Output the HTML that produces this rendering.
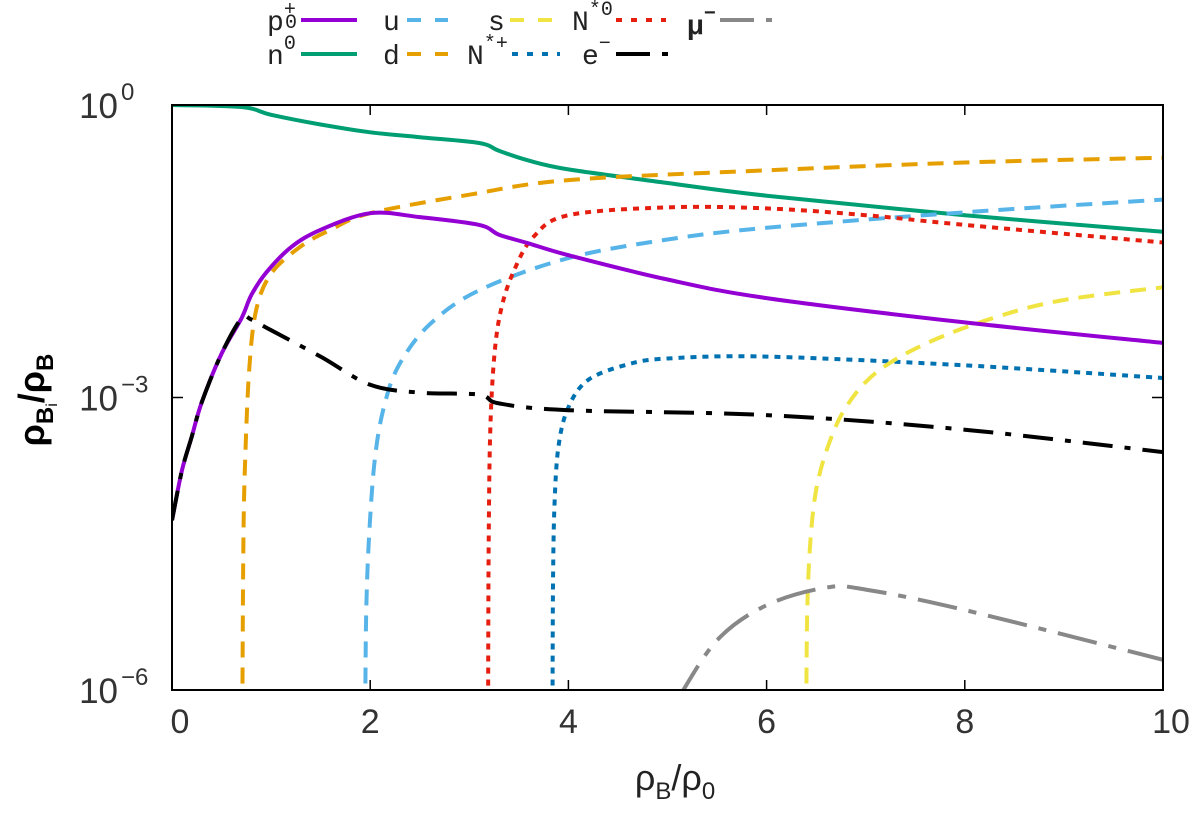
<!DOCTYPE html>
<html><head><meta charset="utf-8"><style>
body{margin:0;background:#fff}
svg text{font-family:"Liberation Sans",sans-serif}
.mono{font-family:"Liberation Mono","DejaVu Sans Mono",monospace}
</style></head><body>
<svg id="c" width="1200" height="821" viewBox="0 0 1200 821">
<defs><clipPath id="clip"><rect x="172" y="105" width="991" height="585"/></clipPath></defs>
<g id="legend"></g>
<g id="series" clip-path="url(#clip)"></g>
<rect x="172" y="105" width="991" height="585" fill="none" stroke="#000" stroke-width="2"/>
<g id="axes"></g>
<text x="675" y="790" font-size="36" text-anchor="middle" fill="#222">ρ<tspan font-size="24" dy="9">B</tspan><tspan dy="-9">/ρ</tspan><tspan font-size="24" dy="9">0</tspan></text>
<text transform="translate(44,400) rotate(-90)" font-size="36" text-anchor="middle" font-weight="bold">ρ<tspan font-size="24" dy="9">B</tspan><tspan font-size="16" font-weight="normal" dy="4">i</tspan><tspan dy="-13">/ρ</tspan><tspan font-size="24" dy="9">B</tspan></text>
</svg>
<script>
const xTicks=[0,2,4,6,8,10];
const yTicks=[0,-3,-6];
const xN0=[0,0.7,1,1.5,2,2.5,3.1,3.3,3.6,4,5,6,8,10];
const yN0=[0,-0.02,-0.1,-0.2,-0.28,-0.33,-0.39,-0.47,-0.57,-0.66,-0.80,-0.93,-1.13,-1.30];
const xP=[0,0.1,0.2,0.3,0.5,0.7,0.8,0.95,1.2,1.5,2,2.5,3.1,3.3,3.6,4,5,6,8,10];
const yP=[-4.26,-3.75,-3.4,-3.05,-2.55,-2.19,-1.95,-1.72,-1.46,-1.28,-1.11,-1.15,-1.23,-1.33,-1.42,-1.54,-1.79,-1.98,-2.23,-2.44];
const xE=[0,0.1,0.2,0.3,0.5,0.7,0.8,1,1.5,2,2.5,3.1,3.3,4,6,8,10];
const yE=[-4.26,-3.75,-3.4,-3.05,-2.55,-2.19,-2.2,-2.31,-2.58,-2.87,-2.95,-2.97,-3.06,-3.13,-3.18,-3.33,-3.56];
const xD=[0.71,0.72,0.74,0.78,0.85,1,1.3,1.6,2,3,4,6,8,10];
const yD=[-6.2,-4.5,-3.6,-2.7,-2.1,-1.73,-1.45,-1.28,-1.11,-0.92,-0.77,-0.67,-0.59,-0.54];
const xU=[1.95,1.96,1.99,2.05,2.15,2.3,2.6,3.1,4,5,6,8,10];
const yU=[-6.2,-5.2,-4.4,-3.6,-3.05,-2.65,-2.25,-1.9,-1.57,-1.38,-1.26,-1.10,-0.97];
const xR=[3.19,3.195,3.21,3.25,3.32,3.45,3.65,4,5,6,7,8,10];
const yR=[-6.2,-4.6,-3.4,-2.6,-2.1,-1.7,-1.35,-1.13,-1.05,-1.06,-1.13,-1.23,-1.41];
const xB=[3.84,3.845,3.86,3.9,4,4.2,4.6,5,6,8,10];
const yB=[-6.2,-4.9,-4.1,-3.5,-3.1,-2.82,-2.66,-2.6,-2.58,-2.67,-2.80];
const xS=[6.4,6.41,6.44,6.5,6.62,6.8,7.1,7.6,8.3,9,10];
const yS=[-6.2,-5.2,-4.5,-3.95,-3.5,-3.1,-2.75,-2.45,-2.18,-2.0,-1.87];
const xM=[5.1,5.5,6,6.6,7,8,10];
const yM=[-6.1,-5.49,-5.13,-4.95,-4.97,-5.18,-5.69];
const X=v=>172+v*99.1, Y=v=>105-v*97.5;
const NS="http://www.w3.org/2000/svg";
function mk(t,a,p){const e=document.createElementNS(NS,t);for(const k in a)e.setAttribute(k,a[k]);p.appendChild(e);return e;}
function smooth(P){let d='M'+P[0][0].toFixed(1)+','+P[0][1].toFixed(1);
 for(let i=0;i<P.length-1;i++){const p0=P[Math.max(0,i-1)],p1=P[i],p2=P[i+1],p3=P[Math.min(P.length-1,i+2)];
  const c1=[p1[0]+(p2[0]-p0[0])/6,p1[1]+(p2[1]-p0[1])/6],c2=[p2[0]-(p3[0]-p1[0])/6,p2[1]-(p3[1]-p1[1])/6];
  d+='C'+c1.map(v=>v.toFixed(1))+' '+c2.map(v=>v.toFixed(1))+' '+p2[0].toFixed(1)+','+p2[1].toFixed(1);}
 return d;}
const S=document.getElementById('series'),A=document.getElementById('axes'),L=document.getElementById('legend');
const styles=[
 [xN0,yN0,"#009e73","","n0-line"],
 [xD,yD,"#e69f00","16 10","d-line"],
 [xU,yU,"#56b4e9","16 10","u-line"],
 [xR,yR,"#e51e10","6 6","nstar0-line"],
 [xB,yB,"#0072b2","6 6","nstarplus-line"],
 [xS,yS,"#f0e442","16 10","s-line"],
 [xM,yM,"#888888","40 12 8 12","mu-line"],
 [xP,yP,"#9400d3","","p-line"],
 [xE,yE,"#000000","30 12 6 12","e-line"]];
styles.forEach(s=>{
 const pts=s[0].map((v,i)=>[X(v),Y(s[1][i])]);
 const p=mk('path',{d:smooth(pts),fill:'none',stroke:s[2],'stroke-width':4,'stroke-dasharray':s[3],'stroke-linejoin':'round'},S);
 
 
});
xTicks.forEach(v=>{
 mk('line',{x1:X(v),x2:X(v),y1:690,y2:680,stroke:'#000','stroke-width':1.5},A);
 mk('line',{x1:X(v),x2:X(v),y1:105,y2:115,stroke:'#000','stroke-width':1.5},A);
 const t=mk('text',{x:X(v)+(v==10?8:v==0?8:0),y:733,'font-size':34,'text-anchor':'middle',fill:'#333'},A);t.textContent=v;
 
 
});
yTicks.forEach(v=>{
 mk('line',{x1:172,x2:183,y1:Y(v),y2:Y(v),stroke:'#000','stroke-width':1.5},A);
 mk('line',{x1:1152,x2:1163,y1:Y(v),y2:Y(v),stroke:'#000','stroke-width':1.5},A);
 const t=mk('text',{x:118,y:Y(v)+13,'font-size':35,'text-anchor':'end',fill:'#333'},A);
 t.textContent='10';
 
 
 const e=mk('text',{x:121,y:Y(v)-5,'font-size':24,'text-anchor':'start',fill:'#333'},A);
 e.textContent=(v<0?'−'+(-v):v);
});
const leg=[
 ["p","+",267,30,301,357,"#9400d3","","legend-p"],
 ["n","0",267,64,301,357,"#009e73","","legend-n"],
 ["u","",383,30,407,448,"#56b4e9","14 14","legend-u"],
 ["d","",383,64,407,448,"#e69f00","14 14","legend-d"],
 ["s","",488,30,510,552,"#f0e442","14 14","legend-s"],
 ["N","*+",467,64,512,560,"#0072b2","6 9","legend-nstarplus"],
 ["N","*0",572,30,616,666,"#e51e10","6 9","legend-nstar0"],
 ["e","−",582,64,616,668,"#000","34 12 6 12","legend-e"],
 ["μ","−",687,34,720,774,"#888","34 12 6 12","legend-mu"]];
leg.forEach(l=>{
 const g=mk('g',{},L);
 
 
 const t=mk('text',{x:l[2],y:l[3],'font-size':28,fill:'#222','font-weight':l[0]=='μ'?'bold':'normal'},g);
 t.innerHTML='<tspan class="mono">'+l[0]+'</tspan><tspan font-size="20" dy="-15" class="mono">'+l[1]+'</tspan>';
 if(l[0]=='p'){const t2=mk('text',{x:l[2]+18,y:l[3]-2,'font-size':20,fill:'#222','class':'mono'},g);t2.textContent='0';}
 const ly=l[0]=='μ'?20:l[3]-10;
 mk('line',{x1:l[4],x2:l[5],y1:ly,y2:ly,stroke:l[6],'stroke-width':4,'stroke-dasharray':l[7]},g);
});
</script>
</body></html>
